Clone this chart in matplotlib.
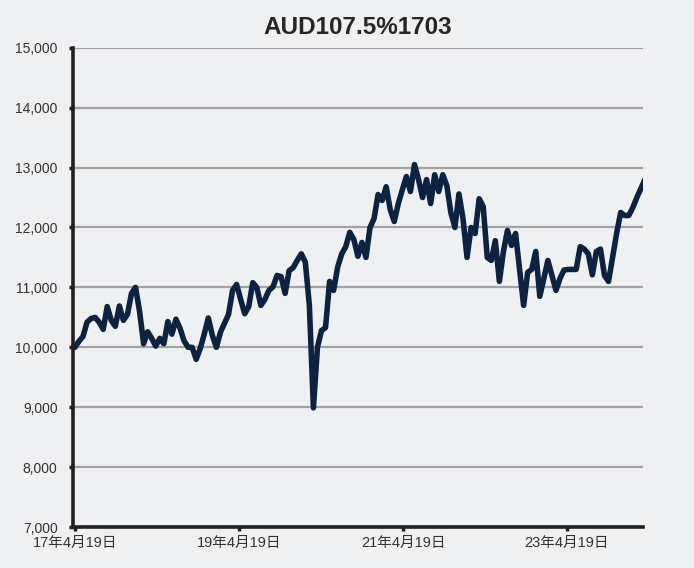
import numpy as np
import pandas as pd
import matplotlib
matplotlib.use("Agg")
import matplotlib.pyplot as plt
import matplotlib.dates as mdates
from matplotlib.ticker import FuncFormatter

plt.rcParams['font.family'] = ['Liberation Sans', 'Noto Sans CJK JP', 'DejaVu Sans']

# 価格データ（18日おきに読み取り）
title = "AUD107.5%1703"
start_date = "2017-04-19"
step = "18D"
values = [
    10000, 10100, 10180, 10420, 10480, 10500, 10420, 10300, 10680, 10450,
    10350, 10690, 10450, 10550, 10900, 11000, 10600, 10060, 10260, 10150,
    10020, 10150, 10060, 10430, 10220, 10470, 10320, 10110, 10000, 10000,
    9800, 9980, 10220, 10490, 10200, 10000, 10250, 10400, 10550, 10950,
    11050, 10800, 10560, 10680, 11080, 11000, 10700, 10800, 10950, 11010,
    11200, 11180, 10900, 11280, 11330, 11450, 11560, 11420, 10700, 8990,
    10000, 10280, 10330, 11100, 10950, 11340, 11560, 11680, 11920, 11800,
    11520, 11750, 11500, 12000, 12150, 12550, 12450, 12680, 12300, 12100,
    12400, 12630, 12850, 12600, 13050, 12800, 12500, 12800, 12400, 12880,
    12600, 12880, 12700, 12250, 12000, 12560, 12150, 11500, 12000, 11900,
    12480, 12350, 11500, 11450, 11780, 11100, 11600, 11950, 11700, 11900,
    11300, 10700, 11250, 11300, 11600, 10850, 11150, 11450, 11200, 10950,
    11150, 11290, 11300, 11300, 11300, 11680, 11640, 11560, 11210, 11600,
    11640, 11200, 11100, 11500, 11900, 12250, 12200, 12200, 12330, 12500,
    12650, 12800,
]
dates = pd.date_range(start_date, periods=len(values), freq=step)

xtick_dates = pd.to_datetime(["2017-04-19", "2019-04-19", "2021-04-19", "2023-04-19"])
xtick_labels = ["17年4月19日", "19年4月19日", "21年4月19日", "23年4月19日"]
yticks = [7000, 8000, 9000, 10000, 11000, 12000, 13000, 14000, 15000]

bg = "#eff0f2"
fig = plt.figure(figsize=(6.94, 5.68), dpi=100, facecolor=bg)
ax = fig.add_axes([0.105, 0.072, 0.822, 0.844], facecolor=bg)

ax.plot(dates, values, color="#0b2341", linewidth=4.0, solid_joinstyle="round",
        solid_capstyle="round", zorder=3)

ax.set_ylim(7000, 15000)
ax.set_xlim(pd.Timestamp("2017-04-10"), pd.Timestamp("2024-03-24"))
ax.set_yticks(yticks)
ax.yaxis.set_major_formatter(FuncFormatter(lambda v, p: f"{int(v):,}"))
ax.set_xticks(xtick_dates)
ax.set_xticklabels(xtick_labels)

ax.grid(axis="y", color="#a3a3a3", linewidth=1.6, zorder=1)
ax.grid(axis="x", visible=False)
for s in ["top", "right"]:
    ax.spines[s].set_visible(False)
for s in ["left", "bottom"]:
    ax.spines[s].set_color("#231f20")
    ax.spines[s].set_linewidth(2.6)
    ax.spines[s].set_zorder(4)

ax.tick_params(axis="y", length=3, width=2.5, color="#231f20", labelsize=10,
               labelcolor="#333333", pad=8)
ax.tick_params(axis="x", length=3, width=2.5, color="#231f20", labelsize=10.5,
               labelcolor="#333333", pad=3)

ax.set_title(title, fontsize=17.5, fontweight="bold", color="#262626", pad=10)

fig.savefig("out.png", dpi=100, facecolor=bg)
